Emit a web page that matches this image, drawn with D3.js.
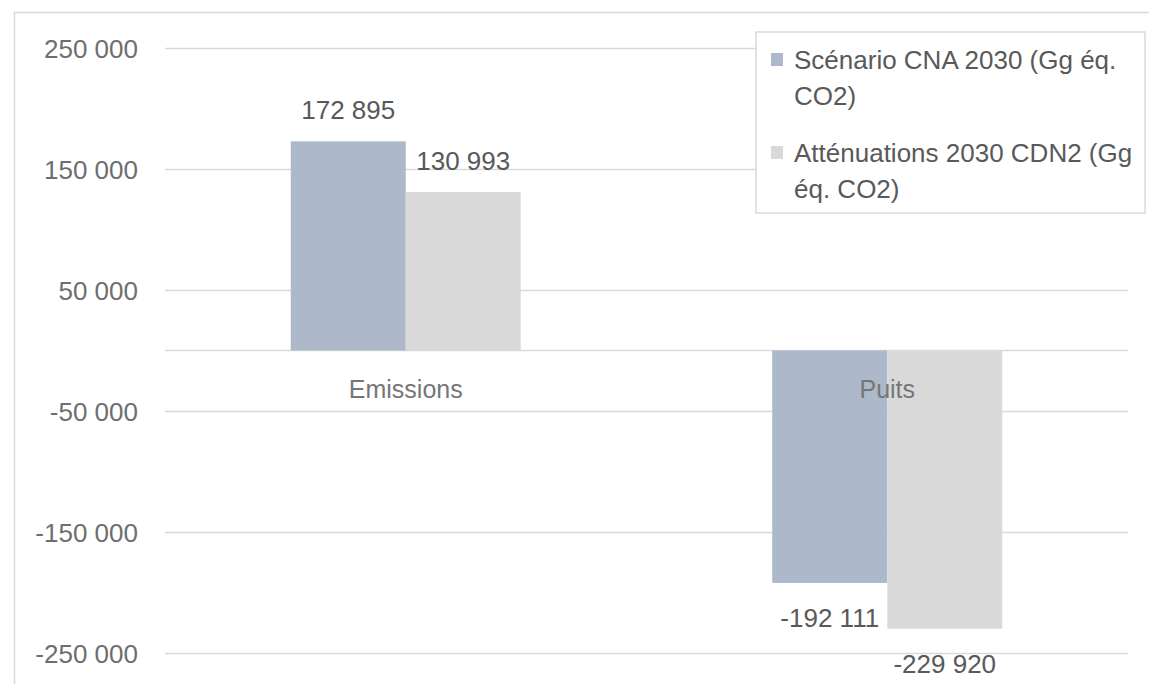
<!DOCTYPE html>
<html>
<head>
<meta charset="utf-8">
<script src="https://cdn.jsdelivr.net/npm/d3@7"></script>
<style>
  html, body { margin: 0; padding: 0; background: #fff; }
  svg { display: block; font-family: "Liberation Sans", Arial, sans-serif; }
</style>
</head>
<body>
<svg id="chart" width="1149" height="684"></svg>
<script>
// Categories, series and tick values
const categories = ["Emissions", "Puits"];
const seriesNames = ["Scénario CNA 2030 (Gg éq. CO2)", "Atténuations 2030 CDN2 (Gg éq. CO2)"];
const legendLines = [["Scénario CNA 2030 (Gg éq.", "CO2)"], ["Atténuations 2030 CDN2 (Gg", "éq. CO2)"]];
const scenarioValues = [172895, -192111];
const attenuationValues = [130993, -229920];
const tickValues = [250000, 150000, 50000, -50000, -150000, -250000];
const colors = ["#adb9ca", "#d9d9d9"];

const svg = d3.select("#chart");
const W = 1149, H = 684;
const plot = { left: 165, right: 1128, top: 48, bottom: 653 };

// French-style thousands separator with a plain hyphen for negatives
const locale = d3.formatLocale({ decimal: ",", thousands: " ", grouping: [3], currency: ["", " €"], minus: "-" });
const fmt = locale.format(",");

// Chart frame (partially visible)
svg.append("rect")
  .attr("x", 14.5).attr("y", 12.5)
  .attr("width", W + 20).attr("height", H + 20)
  .attr("fill", "none").attr("stroke", "#d9d9d9").attr("stroke-width", 1.5);

const y = d3.scaleLinear().domain([-250000, 250000]).range([plot.bottom, plot.top]);
const x0 = d3.scaleBand().domain(categories).range([plot.left, plot.right])
  .paddingInner(0.5223).paddingOuter(0.26115);
const x1 = d3.scaleBand().domain([0, 1]).range([0, x0.bandwidth()]);

// Gridlines and labels via axis
const yAxis = d3.axisLeft(y).tickValues(tickValues).tickSize(0).tickPadding(0).tickFormat(fmt);
const gy = svg.append("g").attr("transform", `translate(${plot.left},0)`).call(yAxis);
gy.select(".domain").remove();
gy.selectAll(".tick text")
  .attr("x", -27).attr("dy", "0.35em")
  .attr("fill", "#6e6e6e").style("font-size", "26px").style("font-family", "Liberation Sans, Arial, sans-serif");
gy.selectAll(".tick line").attr("x2", plot.right - plot.left)
  .attr("stroke", "#d9d9d9").attr("stroke-width", 1.5);

// Zero baseline
svg.append("line")
  .attr("x1", plot.left).attr("x2", plot.right)
  .attr("y1", y(0)).attr("y2", y(0))
  .attr("stroke", "#d9d9d9").attr("stroke-width", 1.5);

const series = [scenarioValues, attenuationValues];
const data = [];
categories.forEach((c, i) => series.forEach((s, j) => data.push({ cat: c, s: j, v: s[i] })));

svg.append("g").selectAll("rect").data(data).join("rect")
  .attr("x", d => x0(d.cat) + x1(d.s))
  .attr("width", x1.bandwidth())
  .attr("y", d => y(Math.max(0, d.v)))
  .attr("height", d => Math.abs(y(d.v) - y(0)))
  .attr("fill", d => colors[d.s]);

// Category labels
svg.append("g").selectAll("text").data(categories).join("text")
  .attr("x", d => x0(d) + x0.bandwidth() / 2)
  .attr("y", y(0) + 39)
  .attr("dy", "0.35em")
  .attr("text-anchor", "middle")
  .attr("fill", "#767676")
  .style("font-size", "25px")
  .text(d => d);

// Data labels
svg.append("g").selectAll("text").data(data).join("text")
  .attr("x", d => x0(d.cat) + x1(d.s) + x1.bandwidth() / 2)
  .attr("y", d => d.v >= 0 ? y(d.v) - 31 : y(d.v) + 35)
  .attr("dy", "0.35em")
  .attr("text-anchor", "middle")
  .attr("fill", "#595959")
  .style("font-size", "26px")
  .text(d => fmt(d.v));

// Legend
const lg = svg.append("g");
lg.append("rect")
  .attr("x", 756).attr("y", 32).attr("width", 389).attr("height", 181)
  .attr("fill", "#fff").attr("stroke", "#d9d9d9").attr("stroke-width", 1.5);
seriesNames.forEach((name, i) => {
  const baseY = 60 + i * 93;
  lg.append("rect").attr("x", 771).attr("y", baseY - 7).attr("width", 12).attr("height", 13)
    .attr("fill", colors[i]);
  const t = lg.append("text").attr("fill", "#595959").style("font-size", "26px");
  legendLines[i].forEach((line, k) => {
    t.append("tspan").attr("x", 794).attr("y", baseY + k * 36).attr("dy", "0.35em").text(line);
  });
});
</script>
</body>
</html>
